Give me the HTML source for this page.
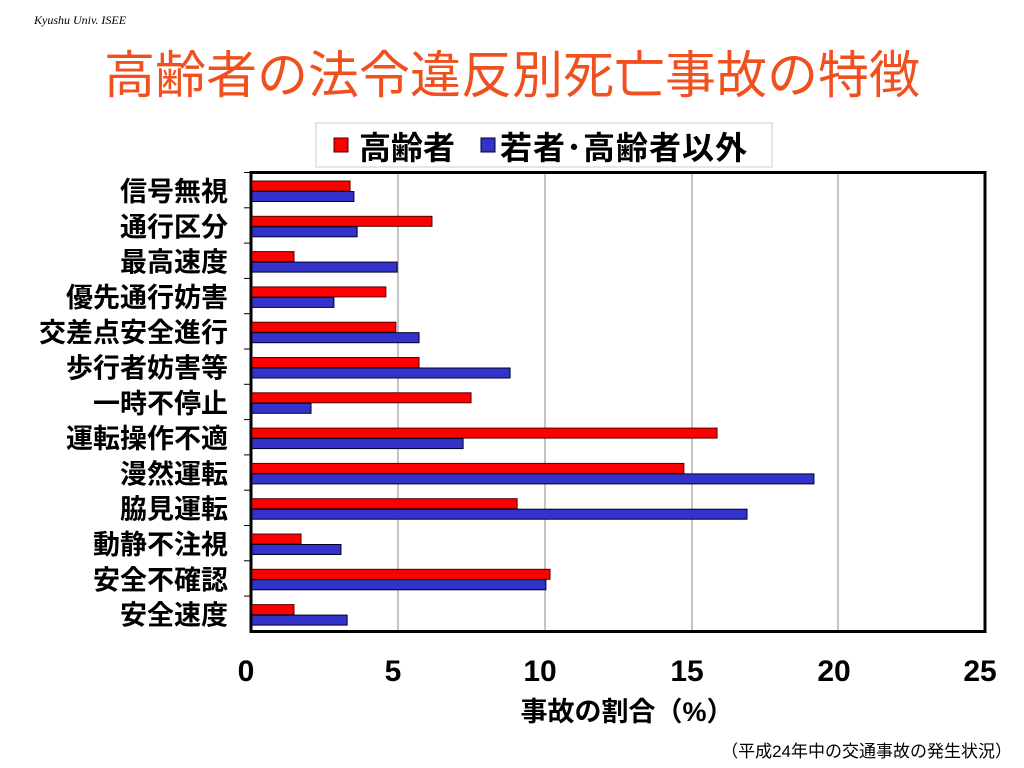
<!DOCTYPE html>
<html><head><meta charset="utf-8"><style>
body{margin:0;background:#fff;width:1024px;height:768px;overflow:hidden}
svg{display:block}
text{font-family:"Liberation Sans","Noto Sans CJK JP",sans-serif}
</style></head><body>
<svg width="1024" height="768" xmlns="http://www.w3.org/2000/svg">
<text x="34" y="24" font-family="Liberation Serif" font-style="italic" font-size="12" style="font-family:'Liberation Serif',serif">Kyushu Univ. ISEE</text>
<text x="512" y="93" text-anchor="middle" font-size="51" fill="#f0501e">高齢者の法令違反別死亡事故の特徴</text>
<rect x="316" y="123" width="456" height="44" fill="#fff" stroke="#ccc"/>
<rect x="334" y="138" width="14" height="14" fill="#f00" stroke="#400" stroke-width="1"/>
<text x="359" y="159" font-size="32" font-weight="bold">高齢者</text>
<rect x="481" y="138" width="14" height="14" fill="#3333cc" stroke="#002" stroke-width="1"/>
<text x="500" y="159" font-size="32" font-weight="bold" letter-spacing="1">若者･高齢者以外</text>
<g stroke="#888" stroke-width="1">
<line x1="398" y1="172" x2="398" y2="632"/><line x1="545" y1="172" x2="545" y2="632"/>
<line x1="692" y1="172" x2="692" y2="632"/><line x1="838" y1="172" x2="838" y2="632"/>
</g>
<rect x="251" y="172.5" width="734" height="459" fill="none" stroke="#000" stroke-width="3"/>
<g id="bars"></g>
<g font-size="27" font-weight="bold" text-anchor="end" id="labels"></g>
<g font-size="30" font-weight="bold" text-anchor="middle">
<text x="246" y="681">0</text><text x="393" y="681">5</text><text x="540" y="681">10</text>
<text x="687" y="681">15</text><text x="834" y="681">20</text><text x="980" y="681">25</text>
</g>
<text x="627" y="721" text-anchor="middle" font-size="27" font-weight="bold">事故の割合（%）</text>
<text x="1012" y="757" text-anchor="end" font-size="17">（平成24年中の交通事故の発生状況）</text>
</svg>
<script>
var names=["信号無視","通行区分","最高速度","優先通行妨害","交差点安全進行","歩行者妨害等","一時不停止","運転操作不適","漫然運転","脇見運転","動静不注視","安全不確認","安全速度"];
var r=[3.34,6.13,1.43,4.56,4.9,5.69,7.46,15.84,14.71,9.03,1.67,10.15,1.43];
var b=[3.47,3.58,4.94,2.79,5.69,8.79,2.01,7.19,19.14,16.86,3.03,10.01,3.24];
var ns="http://www.w3.org/2000/svg",g=document.getElementById("bars"),L=document.getElementById("labels");
function el(t,a,p){var e=document.createElementNS(ns,t);for(var k in a)e.setAttribute(k,a[k]);p.appendChild(e);return e;}
var s=29.36,step=35.3;
for(var i=0;i<13;i++){
 var y=181+i*step;
 el("rect",{x:252,y:y,width:r[i]*s,height:10,fill:"#f00",stroke:"#500","stroke-width":1},g);
 el("rect",{x:252,y:y+10.5,width:b[i]*s,height:10,fill:"#3333cc",stroke:"#002","stroke-width":1},g);
 el("line",{x1:244,x2:251,y1:172.5+i*step,y2:172.5+i*step,stroke:"#000","stroke-width":1},g);
 var t=el("text",{x:228,y:y+20},L);t.textContent=names[i];
}
</script>
</body></html>
